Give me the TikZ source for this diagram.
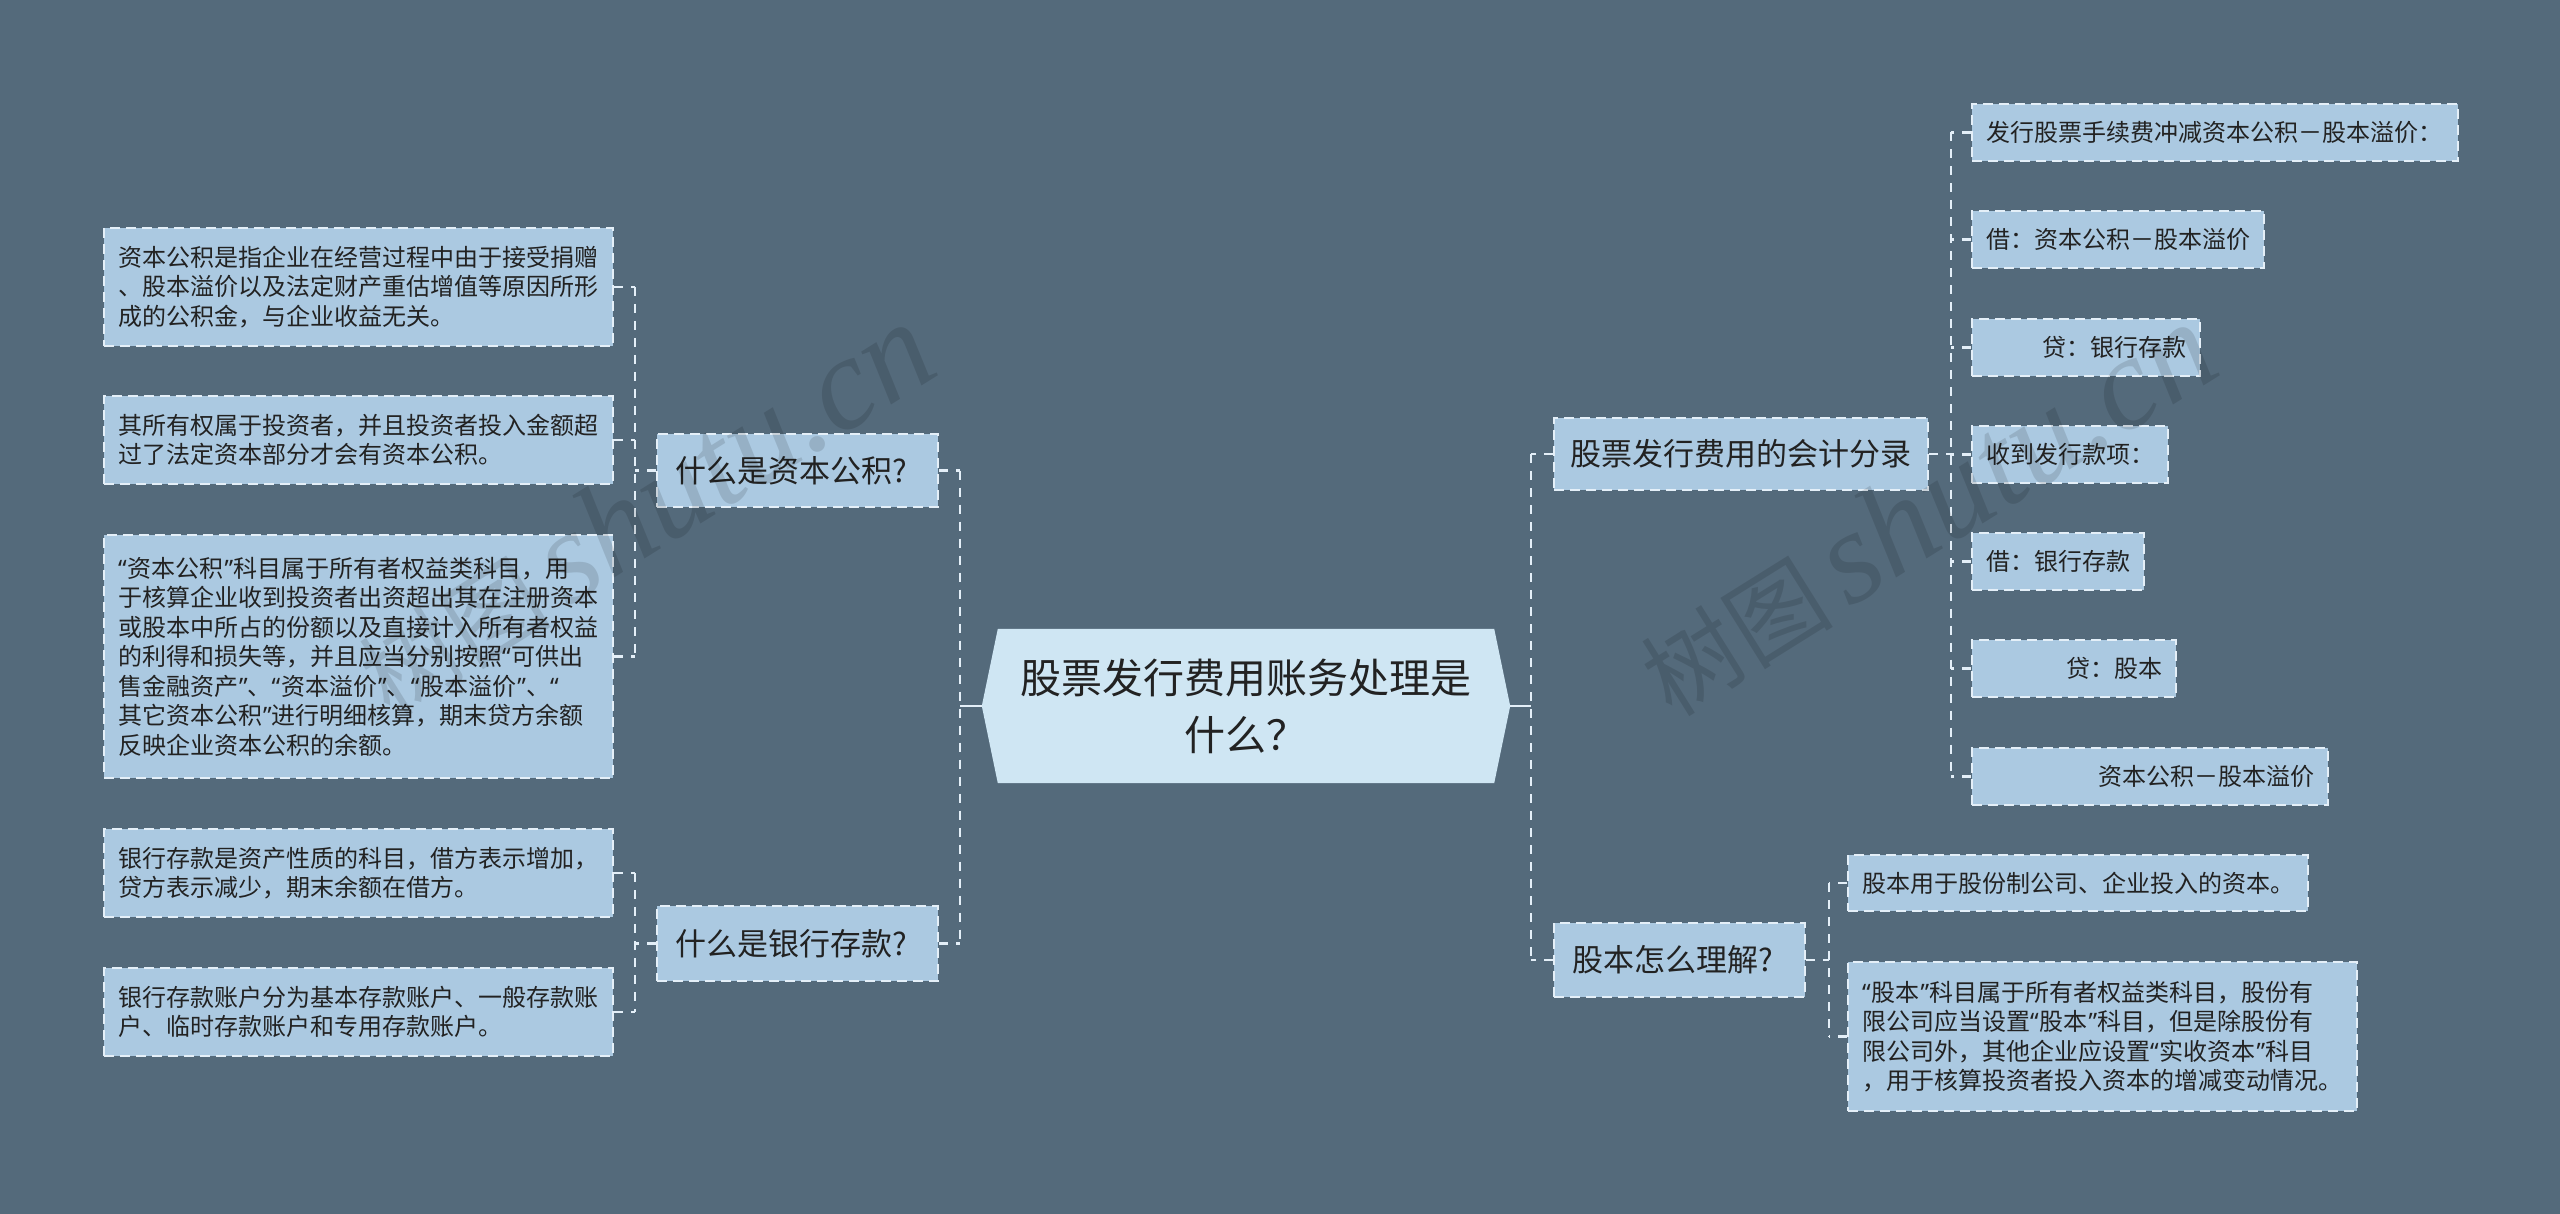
\documentclass[tikz,border=0pt]{standalone}
\usepackage{fontspec}
\setmainfont{Noto Sans CJK SC}
\newfontfamily\wmlatin{Liberation Serif}
\newfontfamily\qfont{Noto Sans}
\newcommand\qo{{\qfont “}\kern1pt}
\newcommand\qc{\kern1pt{\qfont ”}}
\usetikzlibrary{backgrounds}
\definecolor{bgc}{HTML}{546A7B}
\definecolor{boxfill}{HTML}{ABC9E1}
\definecolor{rootfill}{HTML}{CFE6F3}
\definecolor{linec}{HTML}{E4EFF8}
\definecolor{txt}{HTML}{222222}
\tikzset{
  leaf/.style={draw=linec, fill=boxfill, line width=2pt, dash pattern=on 10pt off 6pt,
    inner xsep=14pt, inner ysep=0pt, anchor=north west, text=txt, align=left,
    font=\fontsize{24pt}{29.5pt}\selectfont},
  topic/.style={leaf, inner xsep=18pt, font=\fontsize{31pt}{37pt}\selectfont},
  conn/.style={draw=linec, line width=2.5pt, dash pattern=on 9pt off 8pt},
  solidconn/.style={draw=linec, line width=2.5pt},
  rootnode/.style={minimum width=528pt, minimum height=154pt, inner sep=0pt, align=center,
    text=txt, font=\fontsize{41pt}{57pt}\selectfont},
  wm/.style={rotate=32, text=black, opacity=0.12, inner sep=0pt}
}
\begin{document}
\begin{tikzpicture}[x=1pt,y=-1pt]
\useasboundingbox (0,0) rectangle (2560,1214);
\begin{scope}[on background layer]
\fill[bgc] (0,0) rectangle (2560,1214);
\end{scope}

% root
\node[rootnode] (root) at (1246,706) {股票发行费用账务处理是\\什么？};
\begin{scope}[on background layer]
\fill[rootfill] (root.west) -- ([xshift=16pt]root.north west) -- ([xshift=-16pt]root.north east)
  -- (root.east) -- ([xshift=-16pt]root.south east) -- ([xshift=16pt]root.south west) -- cycle;
\end{scope}

% left topics
\node[topic, text width=245pt, minimum height=73pt] (q1) at (656,433) {什么是资本公积?};
\node[topic, text width=245pt, minimum height=75pt] (q2) at (656,905) {什么是银行存款?};

% left leaves
\node[leaf, text width=481pt, minimum height=118pt] (l1) at (103,227) {资本公积是指企业在经营过程中由于接受捐赠\\、股本溢价以及法定财产重估增值等原因所形\\成的公积金，与企业收益无关。};
\node[leaf, text width=481pt, minimum height=88pt] (l2) at (103,395) {其所有权属于投资者，并且投资者投入金额超\\过了法定资本部分才会有资本公积。};
\node[leaf, text width=481pt, minimum height=243pt] (l3) at (103,534) {\qo 资本公积\qc 科目属于所有者权益类科目，用\\于核算企业收到投资者出资超出其在注册资本\\或股本中所占的份额以及直接计入所有者权益\\的利得和损失等，并且应当分别按照\qo 可供出\\售金融资产\qc 、\qo 资本溢价\qc 、\qo 股本溢价\qc 、\qo\\其它资本公积\qc 进行明细核算，期末贷方余额\\反映企业资本公积的余额。};
\node[leaf, text width=481pt, minimum height=88pt] (l4) at (103,828) {银行存款是资产性质的科目，借方表示增加，\\贷方表示减少，期末余额在借方。};
\node[leaf, text width=481pt, minimum height=88pt] (l5) at (103,967) {银行存款账户分为基本存款账户、一般存款账\\户、临时存款账户和专用存款账户。};

% right topics
\node[topic, inner xsep=16.5pt, text width=341pt, minimum height=72pt] (a) at (1553,417) {股票发行费用的会计分录};
\node[topic, text width=215pt, minimum height=74pt] (b) at (1553,922) {股本怎么理解?};

% right leaves
\node[leaf, text width=458pt, minimum height=57pt] (r1) at (1971,103) {发行股票手续费冲减资本公积－股本溢价：};
\node[leaf, text width=264pt, minimum height=57pt] (r2) at (1971,210) {借：资本公积－股本溢价};
\node[leaf, text width=200pt, minimum height=57pt, align=right] (r3) at (1971,318) {贷：银行存款};
\node[leaf, text width=168pt, minimum height=57pt] (r4) at (1971,425) {收到发行款项：};
\node[leaf, text width=144pt, minimum height=57pt] (r5) at (1971,532) {借：银行存款};
\node[leaf, text width=176pt, minimum height=57pt, align=right] (r6) at (1971,639) {贷：股本};
\node[leaf, text width=328pt, minimum height=57pt, align=right] (r7) at (1971,747) {资本公积－股本溢价};
\node[leaf, text width=432pt, minimum height=56pt] (s1) at (1847,854) {股本用于股份制公司、企业投入的资本。};
\node[leaf, text width=481pt, minimum height=149pt] (s2) at (1847,961) {\qo 股本\qc 科目属于所有者权益类科目，股份有\\限公司应当设置\qo 股本\qc 科目，但是除股份有\\限公司外，其他企业应设置\qo 实收资本\qc 科目\\，用于核算投资者投入资本的增减变动情况。};

% trunk coordinates
\coordinate (rl) at ([xshift=-22pt]root.west);
\coordinate (rr) at ([xshift=21pt]root.east);
\coordinate (tq1) at ([xshift=-21pt]q1.west);
\coordinate (tq2) at ([xshift=-21pt]q2.west);
\coordinate (ta) at ([xshift=22pt]a.east);
\coordinate (tb) at ([xshift=23pt]b.east);

% root connectors
\draw[solidconn] (root.west) -- (rl);
\draw[solidconn] (root.east) -- (rr);
\draw[conn] (q1.east -| rl) -- (q2.east -| rl);
\draw[conn] (q1.east) -- (q1.east -| rl);
\draw[conn] (q2.east) -- (q2.east -| rl);
\draw[conn] (a.west -| rr) -- (b.west -| rr);
\draw[conn] (a.west) -- (a.west -| rr);
\draw[conn] (b.west) -- (b.west -| rr);

% q1 children
\draw[conn] (l1.east -| tq1) -- (l3.east -| tq1);
\draw[conn] (q1.west) -- (tq1);
\draw[conn] (l1.east) -- (l1.east -| tq1);
\draw[conn] (l2.east) -- (l2.east -| tq1);
\draw[conn] (l3.east) -- (l3.east -| tq1);
% q2 children
\draw[conn] (l4.east -| tq2) -- (l5.east -| tq2);
\draw[conn] (q2.west) -- (tq2);
\draw[conn] (l4.east) -- (l4.east -| tq2);
\draw[conn] (l5.east) -- (l5.east -| tq2);
% a children
\draw[conn] (r1.west -| ta) -- (r7.west -| ta);
\draw[conn] (a.east) -- (ta);
\foreach \n in {r1,r2,r3,r4,r5,r6,r7} {\draw[conn] (\n.west) -- (\n.west -| ta);}
% b children
\draw[conn] (s1.west -| tb) -- (s2.west -| tb);
\draw[conn] (b.east) -- (tb);
\draw[conn] (s1.west) -- (s1.west -| tb);
\draw[conn] (s2.west) -- (s2.west -| tb);

% watermarks
\node[wm] (wm1) at (645,510) {\fontsize{96pt}{96pt}\selectfont 树图\,{\wmlatin\itshape\fontsize{132pt}{132pt}\selectfont shutu.cn}};
\node[wm] (wm2) at (1927,510) {\fontsize{96pt}{96pt}\selectfont 树图\,{\wmlatin\itshape\fontsize{132pt}{132pt}\selectfont shutu.cn}};
\end{tikzpicture}
\end{document}
